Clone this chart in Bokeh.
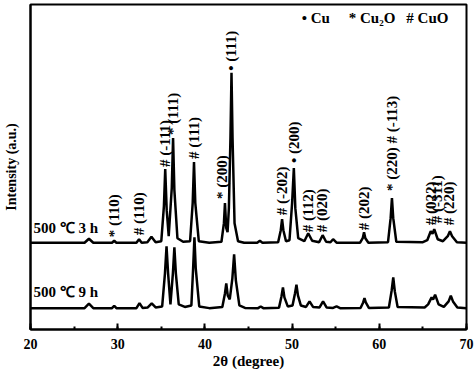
import math
from bokeh.plotting import figure
from bokeh.models import SingleIntervalTicker, FixedTicker, Range1d
from bokeh.core.properties import value
from bokeh.embed import file_html
from bokeh.resources import INLINE

# ---- data (2theta in degrees, intensity in a.u., patterns stacked) ----
two_theta_3h = [20.0, 26.2, 26.7, 27.2, 29.35, 29.6, 29.85, 32.15, 32.45, 32.75,
                33.4, 33.87, 34.35, 35.0, 35.3, 35.45, 35.62, 35.85, 36.2, 36.35,
                36.5, 36.85, 37.5, 38.3, 38.6, 38.75, 38.9, 39.3, 40.5, 41.9,
                42.18, 42.3, 42.45, 42.6, 42.75, 42.93, 43.05, 43.17, 43.4, 43.8,
                44.5, 46.0, 46.3, 46.6, 48.4, 48.7, 48.85, 49.0, 49.3, 49.7,
                50.0, 50.2, 50.37, 50.7, 51.4, 51.85, 52.3, 53.1, 53.5, 53.9,
                54.4, 54.7, 55.1, 57.8, 58.1, 58.25, 58.4, 58.75, 61.0, 61.3,
                61.45, 61.6, 61.95, 65.0, 65.5, 65.9, 66.1, 66.3, 66.7, 67.3,
                67.85, 68.1, 68.35, 68.9, 70.0]
intensity_3h = [85.5, 85.5, 89.5, 85.5, 85.5, 87.5, 85.5, 85.5, 89.0, 85.5,
                86.0, 91.5, 86.0, 87.0, 122.0, 159.0, 118.0, 92.0, 140.0, 190.0,
                138.0, 90.0, 86.5, 87.0, 125.0, 166.0, 125.0, 87.0, 85.5, 86.5,
                105.0, 125.0, 100.0, 96.0, 120.0, 190.0, 255.0, 190.0, 105.0, 87.0,
                85.5, 85.5, 87.5, 85.5, 86.0, 98.0, 109.0, 98.0, 87.0, 88.0,
                125.0, 160.0, 120.0, 90.0, 87.0, 95.0, 87.5, 86.0, 93.0, 86.5,
                86.0, 89.0, 85.5, 85.5, 90.0, 96.0, 90.0, 85.5, 86.0, 110.0,
                130.0, 110.0, 86.5, 86.0, 88.0, 97.0, 94.5, 99.0, 89.0, 87.0,
                92.0, 97.0, 92.0, 86.0, 85.5]

two_theta_9h = [20.0, 26.2, 26.7, 27.2, 29.35, 29.6, 29.85, 32.15, 32.5, 32.85,
                33.45, 33.9, 34.35, 35.1, 35.42, 35.6, 35.78, 36.05, 36.33, 36.5,
                36.67, 37.0, 37.7, 38.45, 38.65, 38.8, 38.95, 39.35, 40.5, 42.0,
                42.3, 42.45, 42.62, 42.85, 43.15, 43.35, 43.55, 43.95, 44.6, 46.1,
                46.4, 46.7, 48.5, 48.78, 48.95, 49.12, 49.5, 50.05, 50.33, 50.5,
                50.67, 51.0, 51.6, 52.0, 52.4, 53.15, 53.55, 53.95, 54.7, 55.1,
                55.5, 57.85, 58.15, 58.3, 58.45, 58.8, 61.1, 61.42, 61.6, 61.78,
                62.1, 65.2, 65.6, 66.0, 66.17, 66.4, 66.8, 67.4, 67.95, 68.2,
                68.45, 68.95, 70.0]
intensity_9h = [20.3, 20.3, 24.7, 20.3, 20.3, 22.7, 20.3, 20.3, 25.3, 20.5,
                21.0, 25.0, 21.0, 22.0, 55.0, 82.0, 55.0, 24.0, 55.0, 81.0,
                55.0, 24.0, 21.5, 23.0, 60.0, 91.0, 60.0, 22.0, 20.3, 21.5,
                35.0, 45.0, 33.0, 29.0, 50.0, 74.0, 48.0, 23.0, 20.5, 20.3,
                22.0, 20.3, 20.8, 32.0, 41.0, 31.0, 22.0, 23.0, 35.0, 43.7,
                33.0, 23.0, 21.5, 27.0, 21.5, 21.0, 27.0, 21.0, 20.5, 22.0,
                20.3, 20.5, 26.0, 30.3, 26.0, 20.5, 21.0, 38.0, 51.0, 37.0,
                21.5, 21.0, 24.0, 31.0, 29.0, 33.7, 24.0, 21.5, 27.0, 32.7,
                27.0, 21.0, 20.3]

peak_labels = ["* (110)", "# (110)", "# (-111)", "* (111)", "# (111)", "* (200)",
               "\u2022 (111)", "# (-202)", "\u2022 (200)", "# (112)", "# (020)",
               "# (202)", "* (220) # (-113)", "# (022)", "# (-311)", "# (220)"]
peak_label_x = [29.62, 32.43, 35.47, 36.38, 38.79, 42.0, 43.04, 48.83, 50.18,
                51.83, 53.47, 58.26, 61.5, 65.95, 66.6, 68.04]
peak_label_y = [91, 93, 161, 193, 169, 129, 257, 113, 165, 96, 96, 98, 137,
                103, 105, 103]

sample_labels = ["500 \u2103 3 h", "500 \u2103 9 h"]
sample_label_x = [20.33, 20.33]
sample_label_y = [100, 36]

phase_labels = ["\u2022 Cu", "* Cu\u2082O", "# CuO"]
phase_label_x = [51.1, 56.5, 63.1]
phase_label_y = [310, 310, 310]

FONT = "Liberation Serif"

p = figure(width=474, height=371, output_backend="svg", toolbar_location=None,
           x_range=Range1d(20, 70), y_range=Range1d(-1, 323),
           min_border_left=0, min_border_right=8, min_border_top=4,
           min_border_bottom=0)
p.background_fill_color = "white"
p.border_fill_color = "white"
p.grid.visible = False
p.outline_line_color = "black"
p.outline_line_width = 2

p.line(two_theta_3h, intensity_3h, line_color="black", line_width=2.5)
p.line(two_theta_9h, intensity_9h, line_color="black", line_width=2.5)

p.text(x=peak_label_x, y=peak_label_y, text=peak_labels, angle=math.pi / 2,
       text_align="left", text_baseline="middle", text_font=value(FONT),
       text_font_style="bold", text_font_size="15px", text_color="black")
p.text(x=sample_label_x, y=sample_label_y, text=sample_labels,
       text_align="left", text_baseline="middle", text_font=value(FONT),
       text_font_style="bold", text_font_size="15px", text_color="black")
p.text(x=phase_label_x, y=phase_label_y, text=phase_labels,
       text_align="left", text_baseline="middle", text_font=value(FONT),
       text_font_style="bold", text_font_size="15px", text_color="black")

xa = p.xaxis[0]
xa.ticker = SingleIntervalTicker(interval=10, num_minor_ticks=2)
xa.major_tick_in = 6
xa.major_tick_out = 0
xa.minor_tick_in = 3
xa.minor_tick_out = 0
xa.major_tick_line_width = 2
xa.minor_tick_line_width = 2
xa.major_tick_line_color = "black"
xa.minor_tick_line_color = "black"
xa.axis_line_width = 2
xa.axis_line_color = "black"
xa.major_label_standoff = 9
xa.major_label_text_font = FONT
xa.major_label_text_font_style = "bold"
xa.major_label_text_font_size = "14px"
xa.major_label_text_color = "black"
xa.axis_label = "2\u03b8 (degree)"
xa.axis_label_text_font = FONT
xa.axis_label_text_font_style = "bold"
xa.axis_label_text_font_size = "15px"
xa.axis_label_text_color = "black"
xa.axis_label_standoff = 1

ya = p.yaxis[0]
ya.ticker = FixedTicker(ticks=[])
ya.major_tick_line_color = None
ya.minor_tick_line_color = None
ya.major_tick_in = 0
ya.major_tick_out = 0
ya.minor_tick_in = 0
ya.minor_tick_out = 0
ya.major_label_standoff = 0
ya.axis_line_width = 2
ya.axis_line_color = "black"
ya.axis_label = "Intensity (a.u.)"
ya.axis_label_text_font = FONT
ya.axis_label_text_font_style = "bold"
ya.axis_label_text_font_size = "14px"
ya.axis_label_text_color = "black"
ya.axis_label_standoff = 12

open("out.html", "w").write(file_html(p, INLINE))
